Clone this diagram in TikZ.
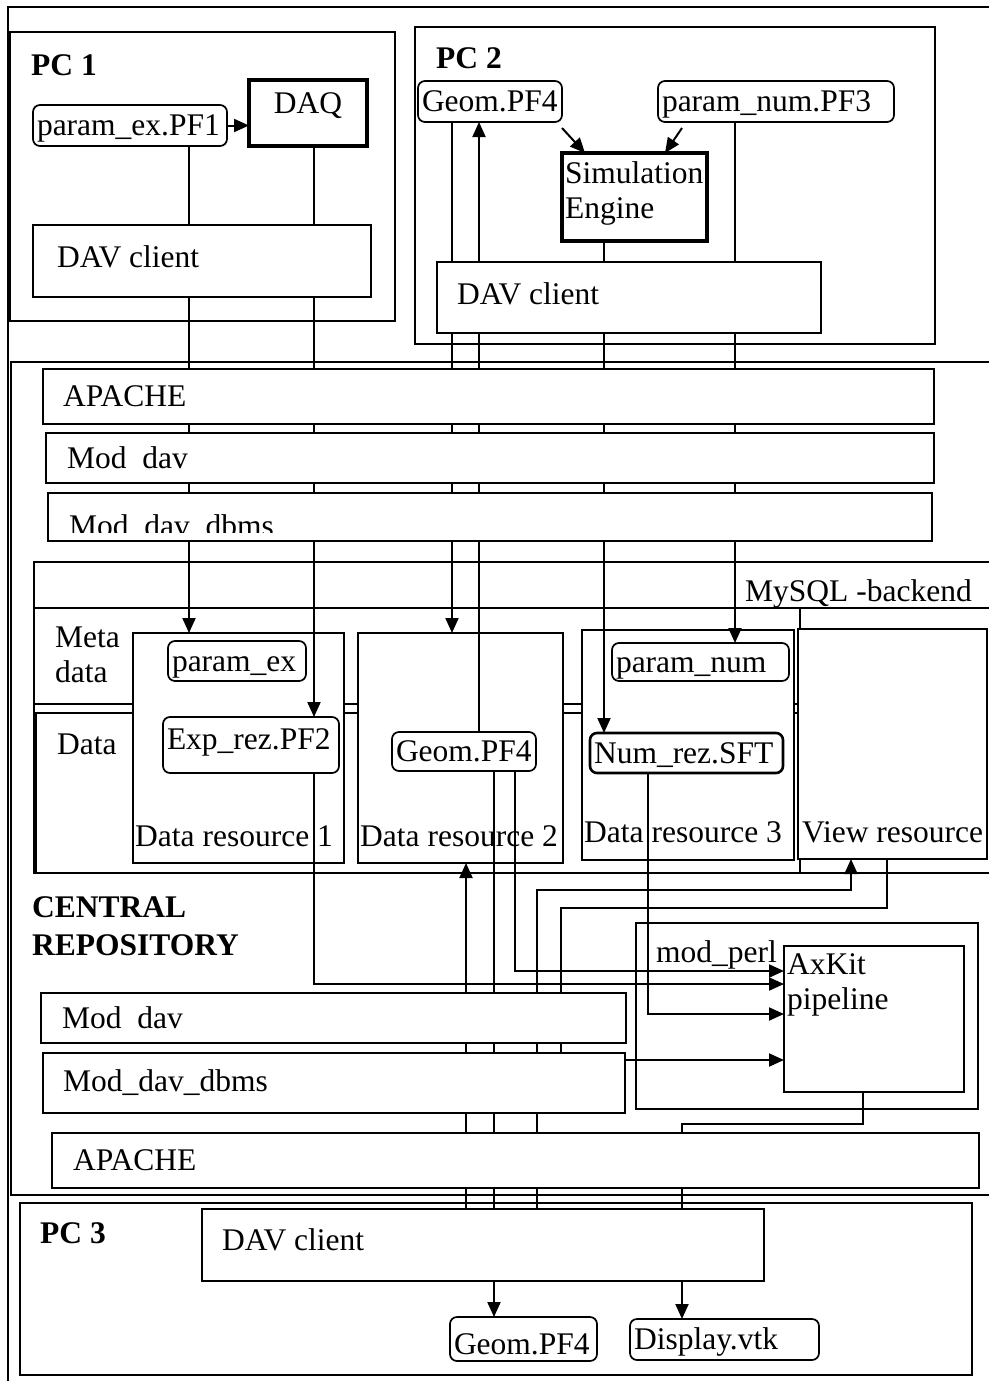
\documentclass[tikz,border=0pt]{standalone}
\usepackage{fontspec}
\setmainfont{Liberation Serif}
\usetikzlibrary{arrows.meta}
\newcommand\dsize{\fontsize{31.5}{35}\selectfont}
\pgfdeclarelayer{back}
\pgfdeclarelayer{wires}
\pgfsetlayers{back,wires,main}
\tikzset{
  frm/.style={draw, line width=2.2pt},
  frmb/.style={draw, line width=2.8pt},
  box/.style={draw, fill=white, line width=2pt, anchor=north west,
    inner sep=0pt, outer sep=0pt},
  thk/.style={box, line width=3.4pt},
  file/.style={box, rounded corners=7pt, line width=1.7pt, align=left,
    inner xsep=4pt, text height=21pt, text depth=1pt},
  lw/.style={anchor=west, inner xsep=20pt},
  lsw/.style={anchor=south west, inner xsep=2pt, inner ysep=16pt},
  lnw/.style={anchor=north west, align=left, inner xsep=3pt},
  txt/.style={anchor=base west, inner sep=0pt},
  hd/.style={txt, font=\dsize\bfseries},
  wire/.style={line width=2pt},
  arr/.style={wire, -{Triangle[length=15pt,width=13pt]}}
}

\begin{document}
\begin{tikzpicture}[x=1pt, y=-1pt, font=\dsize]
  \useasboundingbox (0,0) rectangle (988,1381);

  % frames and resources
  \begin{pgfonlayer}{back}
    \draw[frmb] (995,7) -- (8,7) -- (8,1390);
    \draw[frm] (10,32) rectangle (395,321);
    \draw[frm] (415,27) rectangle (935,344);
    \draw[frmb] (995,362) -- (11,362) -- (11,1195) -- (995,1195);
    \draw[frmb] (20,1203) rectangle (972,1375);
    \draw[frm] (995,562) -- (34,562) -- (34,873) -- (995,873);
    \draw[frm] (34,608) -- (995,608);
    \draw[frm] (34,608) rectangle (800,704);
    \draw[frm] (36,713) rectangle (800,873);
    \draw[frm] (636,923) rectangle (978,1109);
    \node[box, minimum width=211pt, minimum height=230pt,
      label={[lsw]south west:Data resource 1}] (dr1) at (133,633) {};
    \node[box, minimum width=205pt, minimum height=230pt,
      label={[lsw]south west:Data resource 2}] (dr2) at (358,633) {};
    \node[box, minimum width=212pt, minimum height=230pt,
      label={[lsw, inner ysep=17pt]south west:Data resource 3}] (dr3) at (582,630) {};
    \node[box, minimum width=189pt, minimum height=230pt,
      label={[lsw, inner xsep=4pt]south west:View resource}] (vr) at (798,629) {};
  \end{pgfonlayer}

  % PC 1
  \node[hd] (pc1) at (31,75) {PC 1};
  \node[file, text width=186pt, minimum height=41pt] (pexpf1) at (33,105) {param\_ex.PF1};
  \node[thk, minimum width=118pt, minimum height=66pt,
    label={[anchor=north, inner ysep=12pt]north:DAQ}] (daq) at (249,80) {};
  \node[box, minimum width=338pt, minimum height=72pt,
    label={[lw, inner xsep=24pt, yshift=4pt]west:DAV client}] (dav1) at (33,225) {};

  % PC 2
  \node[hd] (pc2) at (436,68) {PC 2};
  \node[file, text width=136pt, minimum height=41pt] (geom2) at (418,81) {Geom.PF4};
  \node[file, text width=228pt, minimum height=41pt] (pnumpf3) at (658,81) {param\_num.PF3};
  \node[thk, minimum width=145pt, minimum height=88pt,
    label={[lnw, inner ysep=8pt]north west:Simulation\\Engine}] (sim) at (562,153) {};
  \node[box, minimum width=384pt, minimum height=71pt,
    label={[lw, yshift=4pt]west:DAV client}] (dav2) at (437,262) {};

  % server stack, upper
  \node[box, minimum width=891pt, minimum height=55pt,
    label={[lw]west:APACHE}] (apache1) at (43,369) {};
  \node[box, minimum width=888pt, minimum height=50pt,
    label={[lw, inner xsep=21pt]west:Mod\ \ dav}] (moddav1) at (46,433) {};
  \node[box, line width=2.8pt, minimum width=884pt, minimum height=48pt] (dbms1) at (48,493) {};
  \begin{scope}
    \clip (dbms1.north west) rectangle ([yshift=9pt]dbms1.south east);
    \node[txt] (dbms1t) at ([xshift=21pt, yshift=5pt]dbms1.south west) {Mod\_dav\_dbms};
  \end{scope}

  % MySQL backend
  \node[txt] (sqlt) at (745,601) {MySQL -backend};
  \node[txt, anchor=north west, align=left] (metat) at (55,627) {Meta\\data};
  \node[txt] (datat) at (57,754) {Data};
  \node[file, text width=130pt, minimum height=40pt] (pex) at (168,641) {param\_ex};
  \node[file, text width=168pt, minimum height=56pt, text depth=13pt] (exprez) at (163,717) {Exp\_rez.PF2};
  \node[file, text width=136pt, minimum height=39pt] (geomdr) at (392,732) {Geom.PF4};
  \node[file, text width=169pt, minimum height=38pt] (pnum) at (612,643) {param\_num};
  \node[file, line width=2.6pt, text width=185pt, minimum height=40pt] (numrez) at (590,733) {Num\_rez.SFT};

  \node[hd, anchor=north west, align=left] (crt) at (32,896) {CENTRAL\\[3pt]REPOSITORY};

  % server stack, lower
  \node[txt] (perlt) at (656,962) {mod\_perl};
  \node[box, minimum width=180pt, minimum height=146pt,
    label={[lnw, inner ysep=7.5pt]north west:AxKit\\pipeline}] (axkit) at (784,946) {};
  \node[box, minimum width=585pt, minimum height=50pt,
    label={[lw, inner xsep=21pt]west:Mod\ \ dav}] (moddav2) at (41,993) {};
  \node[box, minimum width=582pt, minimum height=60pt,
    label={[lw]west:Mod\_dav\_dbms}] (dbms2) at (43,1053) {};
  \node[box, minimum width=927pt, minimum height=55pt,
    label={[lw, inner xsep=21pt]west:APACHE}] (apache2) at (52,1133) {};

  % PC 3
  \node[hd] (pc3) at (40,1243) {PC 3};
  \node[box, minimum width=562pt, minimum height=72pt,
    label={[lw, yshift=5pt]west:DAV client}] (dav3) at (202,1209) {};
  \node[file, text width=139pt, minimum height=44pt, text height=32pt] (geom3) at (450,1317) {Geom.PF4};
  \node[file, text width=181pt, minimum height=41pt] (display) at (630,1319) {Display.vtk};

  % lanes and rows
  \coordinate (l1) at (189,0);
  \coordinate (l2) at (314,0);
  \coordinate (l3) at (452,0);
  \coordinate (l4) at (479,0);
  \coordinate (l5) at (604,0);
  \coordinate (l6) at (735,0);
  \coordinate (b1) at (466,0);
  \coordinate (b2) at (494,0);
  \coordinate (b3) at (515,0);
  \coordinate (b4) at (537,0);
  \coordinate (b5) at (561,0);
  \coordinate (b6) at (648,0);
  \coordinate (b7) at (682,0);
  \coordinate (v1) at (851,0);
  \coordinate (v2) at (887,0);
  \coordinate (a1) at (863,0);
  \coordinate (r1) at (0,890);
  \coordinate (r2) at (0,908);
  \coordinate (r3) at (0,971);
  \coordinate (r4) at (0,984);
  \coordinate (r5) at (0,1014);
  \coordinate (r6) at (0,1060);
  \coordinate (r7) at (0,1124);

  \begin{pgfonlayer}{wires}
    \draw[arr] (pexpf1.east) -- (daq.west |- pexpf1.east);
    \draw[arr] ([yshift=-6pt]geom2.south east) -- ([xshift=23pt]sim.north west);
    \draw[arr] ([xshift=24pt, yshift=-6pt]pnumpf3.south west) -- ([xshift=-42pt]sim.north east);
    \draw[arr] (pexpf1.south -| l1) -- (dr1.north -| l1);
    \draw[arr] (daq.south -| l2) -- (exprez.north -| l2);
    \draw[arr] (geom2.south -| l3) -- (dr2.north -| l3);
    \draw[arr] (geomdr.north -| l4) -- (geom2.south -| l4);
    \draw[arr] (sim.south -| l5) -- (numrez.north -| l5);
    \draw[arr] (pnumpf3.south -| l6) -- (pnum.north -| l6);
    \draw[arr] (dav3.north -| b1) -- (dr2.south -| b1);
    \draw[arr] (geomdr.south -| b2) -- (geom3.north -| b2);
    \draw[arr] (geomdr.south -| b3) |- (axkit.west |- r3);
    \draw[arr] (exprez.south -| l2) |- (axkit.west |- r4);
    \draw[arr] (numrez.south -| b6) |- (axkit.west |- r5);
    \draw[arr] (dbms2.east |- r6) -- (axkit.west |- r6);
    \draw[arr] (dav3.north -| b4) |- (r1 -| v1) -- (vr.south -| v1);
    \draw[wire] (vr.south -| v2) |- (r2 -| b5) -- (dbms2.north -| b5);
    \draw[arr] (axkit.south -| a1) |- (r7 -| b7) -- (display.north -| b7);
  \end{pgfonlayer}
\end{tikzpicture}
\end{document}
